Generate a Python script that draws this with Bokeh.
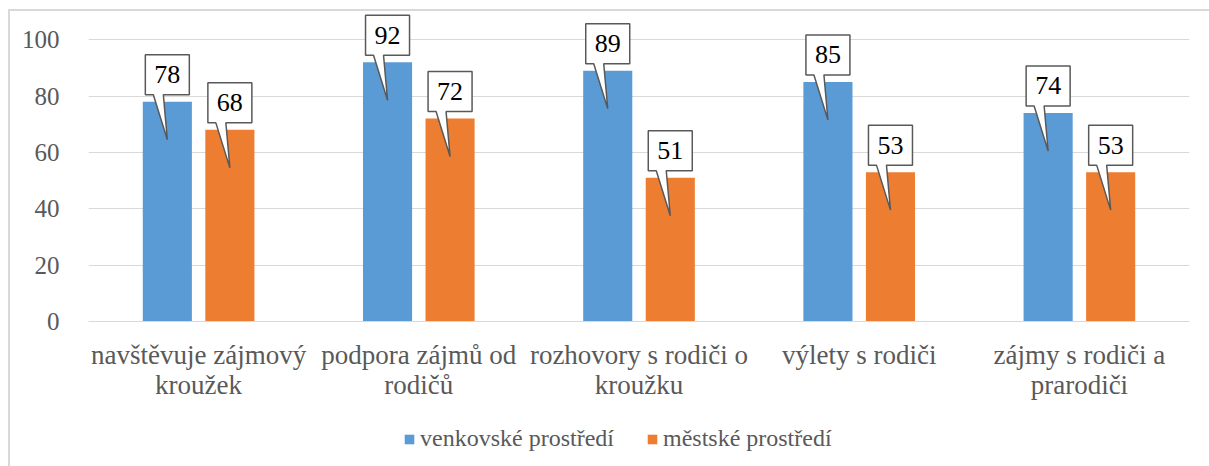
from bokeh.plotting import figure
from bokeh.models import Range1d, FixedTicker, Legend, LegendItem
from bokeh.layouts import column
from bokeh.embed import file_html
from bokeh.resources import INLINE
from bokeh.core.properties import value

# ---- data ----
categories = ["navštěvuje zájmový\nkroužek", "podpora zájmů od\nrodičů",
              "rozhovory s rodiči o\nkroužku", "výlety s rodiči",
              "zájmy s rodiči a\nprarodiči"]
rural = [78, 92, 89, 85, 74]
urban = [68, 72, 51, 53, 53]
series_names = ["venkovské prostředí", "městské prostředí"]
y_ticks = [0, 20, 40, 60, 80, 100]

BLUE = "#5B9BD5"
ORANGE = "#ED7D31"
GRAY = "#595959"
GRID = "#d9d9d9"
FONT = "Liberation Serif"

W, H = 1209, 410
LH = 466 - H
ML, MR, MT, MB = 88, 20, 11, H - 321
Y_MAX = 110
frame_w = W - ML - MR
frame_h = H - MT - MB
ppx = frame_w / len(categories)   # px per x unit
ppy = frame_h / Y_MAX             # px per y unit

p = figure(width=W, height=H, x_range=Range1d(0, len(categories)),
           y_range=Range1d(0, Y_MAX), output_backend="svg",
           toolbar_location=None, min_border_left=ML, min_border_right=MR,
           min_border_top=MT, min_border_bottom=MB)
p.outline_line_color = None
p.background_fill_color = "white"
p.border_fill_alpha = 0

centers = [i + 0.5 for i in range(len(categories))]
off = 0.142
bw = 0.223
xb = [c - off for c in centers]
xo = [c + off for c in centers]

rb = p.vbar(x=xb, top=rural, width=bw, color=BLUE, line_color=None)
ro = p.vbar(x=xo, top=urban, width=bw, color=ORANGE, line_color=None)

# callouts
def callout(xs, vals):
    pxs, pys, tx, ty, tt = [], [], [], [], []
    shape = [(-22, 7), (-22, 47), (22, 47), (22, 7), (-4, 7), (0, -38), (-14, 7)]
    for x, v in zip(xs, vals):
        pxs.append([x + dx / ppx for dx, dy in shape])
        pys.append([v + dy / ppy for dx, dy in shape])
        tx.append(x)
        ty.append(v + 27 / ppy)
        tt.append(str(v))
    p.patches(pxs, pys, fill_color="white", line_color=GRAY, line_width=1.5)
    p.text(tx, ty, text=tt, text_align="center", text_baseline="middle",
           text_font=value(FONT), text_font_size="26px", text_color="black")

callout(xb, rural)
callout(xo, urban)

# axes
p.xaxis.ticker = FixedTicker(ticks=centers)
p.xaxis.major_label_overrides = {c: lab for c, lab in zip(centers, categories)}
p.xaxis.major_tick_line_color = None
p.xaxis.minor_tick_line_color = None
p.xaxis.axis_line_color = GRID
p.xaxis.major_label_text_font = FONT
p.xaxis.major_label_text_font_size = "27px"
p.xaxis.major_label_text_color = GRAY
p.xaxis.major_label_text_line_height = 1.0
p.xaxis.major_label_standoff = 12

p.yaxis.ticker = FixedTicker(ticks=y_ticks)
p.yaxis.axis_line_color = None
p.yaxis.major_tick_line_color = None
p.yaxis.minor_tick_line_color = None
p.yaxis.major_label_text_font = FONT
p.yaxis.major_label_text_font_size = "25px"
p.yaxis.major_label_text_color = GRAY
p.yaxis.major_label_standoff = 23

p.xgrid.visible = False
p.ygrid.grid_line_color = GRID

# legend strip (separate small figure below the chart)
p2 = figure(width=W, height=LH, x_range=Range1d(0, 1), y_range=Range1d(0, 1),
            output_backend="svg", toolbar_location=None,
            x_axis_location=None, y_axis_location=None,
            min_border_left=ML, min_border_right=MR, min_border_top=0,
            min_border_bottom=0)
p2.grid.visible = False
p2.outline_line_color = None
p2.background_fill_color = "white"
p2.border_fill_alpha = 0
# legend proxies: zero-height bars (invisible), only used for the legend swatches
lb = p2.vbar(x=[0.5], top=[0], bottom=[0], width=0.01, color=BLUE, line_color=None)
lo = p2.vbar(x=[0.5], top=[0], bottom=[0], width=0.01, color=ORANGE, line_color=None)
legend = Legend(items=[LegendItem(label=series_names[0], renderers=[lb]),
                       LegendItem(label=series_names[1], renderers=[lo])],
                orientation="horizontal", location=(403 - ML, 14),
                label_text_font=FONT, label_text_font_size="24px",
                label_text_color=GRAY, glyph_width=12, glyph_height=12,
                label_standoff=5, spacing=32, padding=0, margin=0,
                border_line_color=None, background_fill_alpha=0)
p2.add_layout(legend, "center")

layout = column(p, p2, spacing=0)
layout.styles = {
    "background-color": "white",
    "background-image": "linear-gradient(#d9d9d9, #d9d9d9), linear-gradient(#d9d9d9, #d9d9d9)",
    "background-size": "2px 100%, 100% 2px",
    "background-position": "8px 9px, 8px 9px",
    "background-repeat": "no-repeat",
}

open("out.html", "w").write(file_html(layout, INLINE))
